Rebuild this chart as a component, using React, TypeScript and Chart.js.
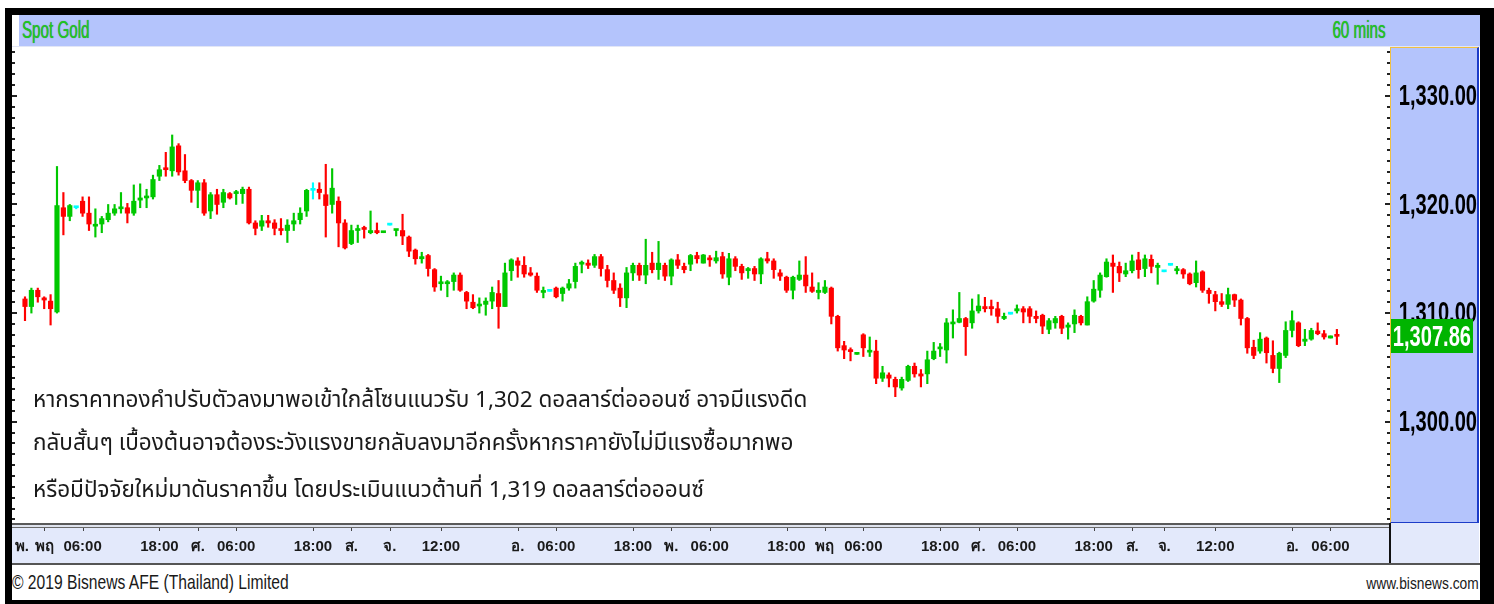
import React, { useEffect, useRef } from "react";
import { Chart, registerables } from "chart.js";
Chart.register(...registerables);

// ---- data (hourly candles, Spot Gold, 60 mins) ----
const openP = [
  1311.3, 1310.6, 1312.1, 1311.4, 1311.1, 1310.1, 1319.7, 1318.9, 1319.7, 1320.3,
  1319.2, 1318.0, 1318.2, 1318.6, 1319.2, 1319.6, 1319.7, 1319.2, 1320.4, 1320.6,
  1320.7, 1322.6, 1323.3, 1323.1, 1325.4, 1323.1, 1322.2, 1321.3, 1322.0, 1319.4,
  1320.9, 1320.2, 1321.0, 1321.0, 1321.0, 1321.4, 1318.3, 1318.0, 1318.5, 1318.3,
  1317.7, 1317.6, 1318.2, 1318.6, 1319.4, 1321.3, 1321.4, 1320.9, 1320.0, 1320.3,
  1318.3, 1316.4, 1317.6, 1317.8, 1317.4, 1317.6, 1317.4, 1318.1, 1317.6, 1317.6,
  1317.0, 1315.8, 1315.0, 1315.3, 1314.0, 1312.7, 1312.7, 1312.9, 1313.5, 1311.9,
  1311.0, 1310.65, 1310.8, 1311.1, 1311.8, 1310.6, 1313.9, 1314.8, 1314.4, 1313.7,
  1313.4, 1311.9, 1312.0, 1312.3, 1311.8, 1312.3, 1312.9, 1314.5, 1314.6, 1314.4,
  1315.2, 1314.0, 1313.0, 1312.3, 1311.4, 1313.7, 1314.4, 1313.5, 1314.6, 1314.0,
  1314.4, 1313.4, 1314.9, 1314.3, 1314.5, 1315.3, 1314.6, 1315.0, 1314.8, 1315.2,
  1313.3, 1315.0, 1314.3, 1313.9, 1314.1, 1313.6, 1315.0, 1314.8, 1313.7, 1313.3,
  1312.1, 1313.1, 1313.5, 1312.4, 1311.9, 1311.9, 1312.3, 1309.7, 1307.0, 1306.6,
  1306.2, 1308.0, 1306.4, 1306.5, 1304.0, 1304.3, 1303.9, 1303.1, 1303.8, 1305.1,
  1304.4, 1304.4, 1305.8, 1306.7, 1306.6, 1309.0, 1309.15, 1309.5, 1309.1, 1310.2,
  1310.6, 1310.6, 1310.4, 1309.5, 1309.9, 1310.2, 1310.4, 1310.4, 1309.7, 1309.8,
  1308.5, 1309.1, 1309.7, 1308.7, 1309.0, 1309.7, 1308.9, 1311.1, 1312.1, 1313.35,
  1314.6, 1314.3, 1313.6, 1313.9, 1314.9, 1314.1, 1314.95, 1314.2, 1313.8, 1314.4,
  1313.9, 1314.0, 1313.6, 1312.8, 1313.8, 1312.1, 1311.7, 1311.05, 1310.8, 1311.7,
  1311.2, 1309.5, 1306.85, 1306.5, 1307.7, 1306.1, 1304.9, 1306.1, 1308.4, 1309.1,
  1307.4, 1307.6, 1308.35, 1308.1, 1307.7, 1307.96,
];
const highP = [
  1311.5, 1312.3, 1312.3, 1311.5, 1311.7, 1323.5, 1321.1, 1320.0, 1319.8, 1320.7,
  1320.7, 1319.6, 1318.9, 1320.0, 1320.0, 1321.1, 1320.1, 1321.8, 1321.9, 1321.4,
  1322.7, 1323.6, 1324.8, 1326.4, 1325.6, 1324.6, 1322.3, 1322.2, 1322.3, 1321.1,
  1321.4, 1321.4, 1321.1, 1321.3, 1321.6, 1321.6, 1318.5, 1319.0, 1319.0, 1318.6,
  1318.7, 1318.6, 1319.2, 1319.7, 1321.4, 1322.0, 1322.0, 1323.7, 1323.3, 1320.7,
  1318.6, 1318.1, 1318.1, 1318.0, 1319.4, 1318.3, 1317.5, 1318.1, 1317.7, 1319.1,
  1317.1, 1315.9, 1315.6, 1315.4, 1314.1, 1313.4, 1313.0, 1313.7, 1313.7, 1312.0,
  1311.7, 1311.4, 1311.4, 1312.4, 1313.0, 1314.6, 1315.0, 1315.1, 1315.2, 1314.2,
  1313.7, 1312.4, 1312.0, 1312.4, 1312.4, 1313.1, 1314.6, 1314.8, 1314.9, 1315.4,
  1315.4, 1314.4, 1313.7, 1312.7, 1314.2, 1314.6, 1314.6, 1316.8, 1315.6, 1316.6,
  1314.6, 1315.0, 1315.4, 1314.6, 1315.4, 1315.6, 1315.4, 1315.3, 1315.7, 1315.6,
  1315.5, 1315.2, 1314.5, 1314.2, 1314.3, 1315.1, 1315.6, 1315.0, 1314.0, 1313.4,
  1313.4, 1314.8, 1315.2, 1313.7, 1312.8, 1313.0, 1312.4, 1309.8, 1307.4, 1306.8,
  1306.3, 1308.1, 1307.8, 1307.5, 1305.1, 1304.5, 1304.1, 1304.1, 1305.2, 1305.4,
  1304.8, 1306.5, 1307.3, 1307.2, 1309.5, 1310.3, 1311.9, 1309.6, 1311.3, 1311.7,
  1311.45, 1311.2, 1311.0, 1310.0, 1309.9, 1310.75, 1310.6, 1310.6, 1310.2, 1309.9,
  1309.5, 1309.7, 1309.8, 1309.1, 1310.3, 1309.8, 1311.5, 1313.0, 1313.7, 1315.0,
  1315.35, 1314.7, 1314.6, 1315.35, 1315.6, 1315.35, 1315.35, 1314.6, 1313.8, 1314.4,
  1314.3, 1314.1, 1313.7, 1314.8, 1313.9, 1312.3, 1312.0, 1311.8, 1312.3, 1311.75,
  1311.3, 1309.6, 1307.5, 1308.2, 1307.8, 1307.45, 1306.4, 1309.2, 1310.2, 1309.2,
  1308.5, 1308.6, 1309.1, 1308.4, 1307.9, 1308.5,
];
const lowP = [
  1309.3, 1310.0, 1311.0, 1310.4, 1308.9, 1310.0, 1317.2, 1318.5, 1319.6, 1318.9,
  1317.6, 1317.0, 1317.4, 1318.4, 1319.0, 1319.2, 1318.3, 1319.0, 1319.7, 1319.7,
  1320.5, 1322.2, 1322.6, 1322.6, 1322.7, 1322.0, 1320.2, 1319.7, 1319.0, 1318.7,
  1319.1, 1319.7, 1320.5, 1320.0, 1320.1, 1318.2, 1317.2, 1317.6, 1317.9, 1317.2,
  1317.2, 1316.5, 1317.6, 1318.2, 1318.9, 1320.5, 1320.5, 1317.0, 1319.2, 1316.1,
  1315.9, 1316.3, 1316.5, 1316.9, 1317.3, 1317.3, 1317.4, 1318.1, 1317.1, 1316.3,
  1315.2, 1314.5, 1314.6, 1313.4, 1312.0, 1312.1, 1311.5, 1312.1, 1312.0, 1310.4,
  1310.4, 1310.0, 1309.8, 1310.4, 1308.6, 1310.6, 1313.0, 1313.3, 1313.3, 1313.4,
  1311.9, 1311.4, 1312.0, 1311.4, 1311.1, 1312.1, 1312.3, 1313.7, 1314.1, 1314.2,
  1313.4, 1312.4, 1311.8, 1310.6, 1310.5, 1313.0, 1313.0, 1312.7, 1313.7, 1313.1,
  1313.0, 1312.6, 1314.1, 1313.7, 1313.9, 1314.6, 1314.6, 1314.3, 1314.6, 1313.2,
  1312.6, 1313.9, 1313.1, 1313.2, 1313.0, 1312.7, 1314.6, 1313.2, 1313.0, 1311.9,
  1311.3, 1313.0, 1311.9, 1311.9, 1311.3, 1311.8, 1309.0, 1306.5, 1305.8, 1305.6,
  1306.2, 1306.0, 1306.0, 1303.5, 1303.7, 1303.2, 1302.3, 1302.9, 1303.7, 1304.1,
  1303.2, 1303.5, 1305.7, 1306.0, 1305.4, 1307.7, 1309.1, 1306.1, 1308.6, 1310.0,
  1310.1, 1309.8, 1309.1, 1309.4, 1309.9, 1310.0, 1309.1, 1309.1, 1309.1, 1308.1,
  1308.1, 1308.6, 1308.1, 1307.6, 1308.2, 1308.9, 1308.9, 1311.0, 1311.45, 1313.3,
  1311.9, 1312.9, 1313.35, 1313.7, 1313.2, 1313.35, 1313.7, 1312.65, 1313.8, 1314.4,
  1313.6, 1313.2, 1312.6, 1312.4, 1311.9, 1310.9, 1310.2, 1310.6, 1310.4, 1310.6,
  1308.9, 1306.3, 1305.8, 1306.3, 1305.4, 1304.5, 1303.6, 1305.9, 1307.8, 1306.9,
  1307.0, 1307.5, 1308.0, 1307.6, 1307.7, 1307.1,
];
const closeP = [
  1310.6, 1312.1, 1311.5, 1311.2, 1310.4, 1319.9, 1318.9, 1319.9, 1319.7, 1319.2,
  1318.2, 1318.1, 1318.7, 1319.2, 1319.6, 1319.7, 1319.2, 1320.3, 1320.6, 1320.7,
  1322.3, 1323.2, 1323.2, 1325.3, 1323.0, 1322.2, 1321.3, 1322.0, 1319.2, 1320.9,
  1320.0, 1321.1, 1320.6, 1321.1, 1321.4, 1318.3, 1317.8, 1318.5, 1318.3, 1317.8,
  1317.6, 1318.1, 1318.5, 1319.2, 1321.3, 1321.3, 1321.1, 1319.9, 1321.5, 1318.3,
  1316.0, 1317.6, 1317.7, 1317.7, 1317.6, 1317.4, 1317.5, 1318.1, 1317.7, 1317.1,
  1315.7, 1315.0, 1315.2, 1314.1, 1312.4, 1312.8, 1312.85, 1313.5, 1312.1, 1311.1,
  1310.5, 1310.8, 1311.1, 1311.9, 1310.6, 1313.7, 1314.9, 1314.4, 1313.6, 1313.5,
  1312.1, 1312.0, 1312.0, 1311.5, 1312.3, 1312.7, 1314.3, 1314.6, 1314.4, 1315.2,
  1314.1, 1313.0, 1312.1, 1311.4, 1313.7, 1314.4, 1313.5, 1314.4, 1314.0, 1314.6,
  1313.4, 1314.9, 1314.4, 1314.0, 1315.3, 1315.0, 1315.35, 1314.9, 1315.1, 1313.6,
  1315.0, 1314.3, 1313.7, 1314.1, 1313.6, 1315.0, 1314.8, 1314.0, 1313.4, 1312.1,
  1313.3, 1313.5, 1312.5, 1312.0, 1312.1, 1312.4, 1309.7, 1306.8, 1306.6, 1306.45,
  1306.3, 1306.8, 1306.5, 1304.0, 1304.5, 1304.0, 1303.2, 1303.9, 1305.1, 1304.4,
  1304.2, 1305.7, 1306.5, 1306.8, 1309.1, 1309.1, 1309.5, 1308.75, 1310.2, 1310.65,
  1310.4, 1310.4, 1309.7, 1309.7, 1309.9, 1310.4, 1310.1, 1309.7, 1309.5, 1308.8,
  1309.3, 1309.5, 1308.6, 1308.9, 1309.8, 1309.1, 1311.05, 1312.2, 1313.5, 1314.7,
  1314.3, 1313.7, 1313.9, 1314.8, 1314.0, 1315.0, 1314.3, 1314.4, 1313.8, 1314.4,
  1314.05, 1313.6, 1312.7, 1313.7, 1312.1, 1311.8, 1311.05, 1310.8, 1311.7, 1311.2,
  1309.5, 1306.8, 1306.1, 1307.6, 1306.35, 1304.9, 1306.3, 1308.4, 1309.3, 1307.0,
  1307.6, 1308.4, 1308.1, 1307.8, 1307.9, 1307.86,
];

// x-axis tick positions (candle index) and their labels
const tickIdx = [-0.5, 3, 9, 21, 27, 33, 45, 51, 57, 65, 77, 83, 95, 101, 107, 119, 125, 131, 143, 149, 155, 167, 173, 178, 186, 198, 204];
const tickText = ["พ.", "พฤ", "06:00", "18:00", "ศ.", "06:00", "18:00", "ส.", "จ.", "12:00", "อ.", "06:00", "18:00", "พ.", "06:00", "18:00", "พฤ", "06:00", "18:00", "ศ.", "06:00", "18:00", "ส.", "จ.", "12:00", "อ.", "06:00"];

const yMin = 1290.67;
const yMax = 1334.5;
const yMajor = [1300, 1310, 1320, 1330];
const xMin = -2.03;
const xMax = 213.3;

const annotation = [
  "หากราคาทองคำปรับตัวลงมาพอเข้าใกล้โซนแนวรับ 1,302 ดอลลาร์ต่อออนซ์ อาจมีแรงดีด",
  "กลับสั้นๆ เบื้องต้นอาจต้องระวังแรงขายกลับลงมาอีกครั้งหากราคายังไม่มีแรงซื้อมากพอ",
  "หรือมีปัจจัยใหม่มาดันราคาขึ้น โดยประเมินแนวต้านที่ 1,319 ดอลลาร์ต่อออนซ์",
];

const GREEN = "#00c800";
const RED = "#ff0000";
const CYAN = "#00ffff";
const PANEL = "#b4c4fc";
const BAND = "#e3e9fb";
const SANS = '"Liberation Sans", Arial, sans-serif';
const THAI = '"Noto Sans Thai", "Noto Sans Thai UI", Loma, Garuda, Tahoma, sans-serif';

const fmt = (v: number) =>
  v.toLocaleString("en-US", { minimumFractionDigits: 2, maximumFractionDigits: 2 });

export default function App() {
  const ref = useRef<HTMLCanvasElement>(null);

  useEffect(() => {
    const colors = openP.map((o, i) => (closeP[i] > o ? GREEN : closeP[i] < o ? RED : CYAN));

    const decor = {
      id: "decor",
      afterDraw(chart: any) {
        const { ctx, chartArea: a, scales } = chart;
        const y = scales.y;
        const x = scales.x;
        ctx.save();
        // y tick marks, both sides
        ctx.fillStyle = "#222";
        for (let v = Math.ceil(yMin); v <= Math.floor(yMax); v++) {
          const py = Math.round(y.getPixelForValue(v));
          const major = v % 10 === 0;
          ctx.fillRect(a.left, py - 1, major ? 5 : 3, 2);
          ctx.fillRect(a.right - (major ? 5 : 3), py - 1, major ? 5 : 3, 2);
        }
        // x tick marks
        ctx.fillStyle = "#444";
        tickIdx.forEach((v) => {
          if (v < 0) return;
          const px = Math.round(x.getPixelForValue(v));
          ctx.fillRect(px, a.bottom + 5, 1, 3);
        });
        // y labels (condensed)
        const rightX = chart.width - 2;
        ctx.font = `bold 30px ${SANS}`;
        ctx.textAlign = "right";
        ctx.textBaseline = "middle";
        yMajor.forEach((v) => {
          const py = y.getPixelForValue(v);
          ctx.save();
          ctx.translate(rightX, py + 1);
          ctx.scale(0.67, 1);
          ctx.fillStyle = "#000";
          ctx.fillText(fmt(v), 0, 0);
          ctx.restore();
        });
        // current price box
        const last = closeP[closeP.length - 1];
        const pp = y.getPixelForValue(last);
        ctx.fillStyle = "#00b400";
        ctx.fillRect(a.right + 1, Math.round(pp - 17), 82, 34);
        ctx.save();
        ctx.translate(a.right + 81, pp + 1);
        ctx.scale(0.67, 1);
        ctx.fillStyle = "#ffffff";
        ctx.fillText(fmt(last), 0, 0);
        ctx.restore();
        ctx.restore();
      },
    };

    const chart = new Chart(ref.current as HTMLCanvasElement, {
      type: "bar",
      data: {
        datasets: [
          {
            label: "wick",
            data: openP.map((_, i) => ({ x: i, y: [lowP[i], highP[i]] })) as any,
            backgroundColor: colors,
            barThickness: 1.5,
            minBarLength: 1,
            grouped: false,
          },
          {
            label: "body",
            data: openP.map((o, i) => ({ x: i, y: [o, closeP[i]] })) as any,
            backgroundColor: colors,
            barThickness: 4.5,
            minBarLength: 2,
            grouped: false,
          },
        ],
      },
      options: {
        responsive: false,
        animation: false,
        maintainAspectRatio: false,
        layout: { padding: 0 },
        plugins: { legend: { display: false }, tooltip: { enabled: false } },
        scales: {
          x: {
            type: "linear",
            min: xMin,
            max: xMax,
            offset: false,
            grid: { display: false, drawTicks: false },
            border: { display: false },
            afterBuildTicks: (s: any) => {
              s.ticks = tickIdx.map((v) => ({ value: v }));
            },
            afterFit: (s: any) => {
              s.height = 42;
              s.paddingLeft = 0;
              s.paddingRight = 0;
            },
            ticks: {
              autoSkip: false,
              maxRotation: 0,
              minRotation: 0,
              padding: 15,
              color: "#1a1a1a",
              font: { family: SANS, size: 15, weight: "bold" },
              callback: (v: any) => {
                const k = tickIdx.indexOf(Number(v));
                return k >= 0 ? tickText[k] : "";
              },
            },
          },
          y: {
            position: "right",
            min: yMin,
            max: yMax,
            grid: { display: false, drawTicks: false },
            border: { display: false },
            ticks: { display: false, stepSize: 1 },
            afterFit: (s: any) => {
              s.width = 89;
              s.paddingTop = 0;
              s.paddingBottom = 0;
            },
          },
        },
      } as any,
      plugins: [decor],
    });
    return () => chart.destroy();
  }, []);

  const abs = (l: number, t: number, w: number, h: number, bg: string, extra: any = {}) => ({
    position: "absolute" as const,
    left: l,
    top: t,
    width: w,
    height: h,
    background: bg,
    ...extra,
  });

  return (
    <div style={{ position: "absolute", left: 0, top: 0, width: 1494, height: 604, background: "#fff", overflow: "hidden" }}>
      {/* frame */}
      <div style={abs(5, 8, 1489, 596, "#000")} />
      <div style={abs(12, 15, 1468, 585, "#fff")} />
      {/* header */}
      <div style={abs(19, 15, 1461, 31, PANEL)} />
      <div style={abs(12, 46, 1468, 1, "#e2e6f6")} />
      <div
        style={{
          position: "absolute", left: 22, top: 15, height: 31, lineHeight: "31px",
          fontFamily: SANS, fontSize: 23, color: "#1ec81e", transform: "scaleX(0.66)", transformOrigin: "left center",
          whiteSpace: "nowrap", textShadow: "0 0 1px rgba(0,80,0,0.7)",
        }}
      >
        Spot Gold
      </div>
      <div
        style={{
          position: "absolute", right: 1494 - 1386, top: 15, height: 31, lineHeight: "31px",
          fontFamily: SANS, fontSize: 23, color: "#1ec81e", transform: "scaleX(0.66)", transformOrigin: "right center",
          whiteSpace: "nowrap", textShadow: "0 0 1px rgba(0,80,0,0.7)",
        }}
      >
        60 mins
      </div>
      {/* right value panel */}
      <div style={abs(1390, 47, 89, 476, PANEL, { boxSizing: "border-box", borderLeft: "1px solid #f0c040", borderTop: "1px solid #f0c040", borderRight: "2px solid #1c3cc8", borderBottom: "1px solid #1c3cc8" })} />
      {/* x axis band */}
      <div style={abs(12, 523, 1377, 2, "#5a5a5a")} />
      <div style={abs(12, 525, 1377, 2, "#dfe3ee")} />
      <div style={abs(12, 527, 1377, 1, "#6a6a6a")} />
      <div style={abs(12, 528, 1377, 35, BAND)} />
      <div style={abs(1389, 523, 2, 42, "#111")} />
      <div style={abs(1391, 523, 88, 40, BAND)} />
      <div style={abs(12, 563, 1468, 2, "#555")} />
      {/* chart */}
      <canvas ref={ref} width={1467} height={518} style={{ position: "absolute", left: 12, top: 47, width: 1467, height: 518 }} />
      {/* annotation */}
      {annotation.map((line, i) => (
        <div
          key={i}
          style={{
            position: "absolute", left: 33, top: [386, 429, 476][i], height: 28, lineHeight: "28px",
            fontFamily: THAI, fontSize: 22.5, color: "#1a1a1a", whiteSpace: "nowrap",
          }}
        >
          {line}
        </div>
      ))}
      {/* footer */}
      <div
        style={{
          position: "absolute", left: 12, top: 569, height: 26, lineHeight: "26px",
          fontFamily: SANS, fontSize: 21, color: "#1a1a1a", transform: "scaleX(0.745)", transformOrigin: "left center", whiteSpace: "nowrap",
        }}
      >
        © 2019 Bisnews AFE (Thailand) Limited
      </div>
      <div
        style={{
          position: "absolute", right: 1494 - 1479, top: 571, height: 26, lineHeight: "26px",
          fontFamily: SANS, fontSize: 16, color: "#1a1a1a", transform: "scaleX(0.86)", transformOrigin: "right center", whiteSpace: "nowrap",
        }}
      >
        www.bisnews.com
      </div>
    </div>
  );
}
